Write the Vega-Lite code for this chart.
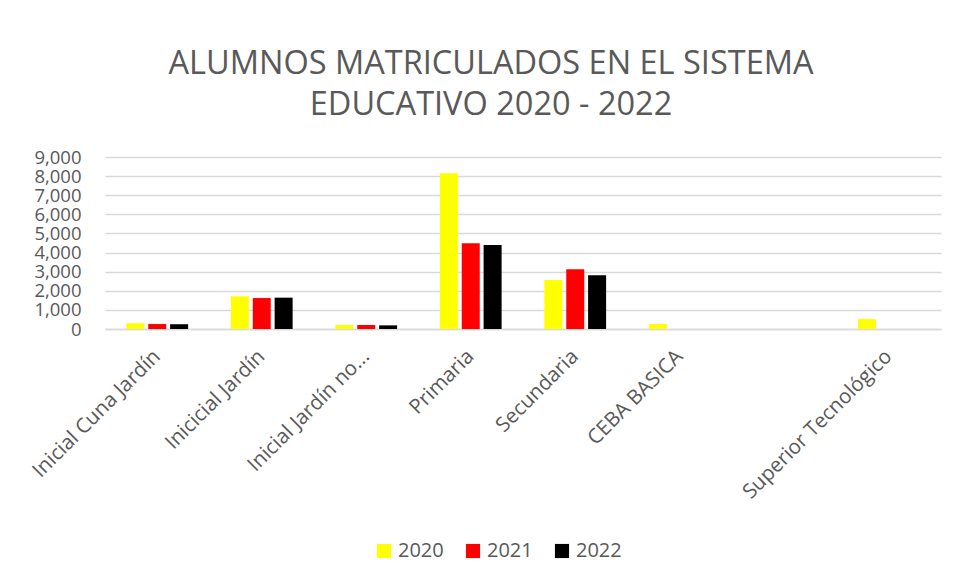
{
  "$schema": "https://vega.github.io/schema/vega-lite/v6.json",
  "width": 836,
  "height": 172,
  "autosize": {"type": "none"},
  "padding": {"left": 105, "top": 157, "right": 15, "bottom": 254},
  "background": "white",
  "title": {
    "text": ["ALUMNOS MATRICULADOS EN EL SISTEMA", "EDUCATIVO 2020 - 2022"],
    "font": "Open Sans",
    "fontSize": 32.5,
    "fontWeight": "normal",
    "color": "#595959",
    "lineHeight": 41,
    "anchor": "middle",
    "dx": -32,
    "offset": 27
  },
  "data": {
    "values": [
      {"nivel": "Inicial Cuna Jardín", "anio": "2020", "alumnos": 300},
      {"nivel": "Inicial Cuna Jardín", "anio": "2021", "alumnos": 260},
      {"nivel": "Inicial Cuna Jardín", "anio": "2022", "alumnos": 250},
      {"nivel": "Inicicial Jardín", "anio": "2020", "alumnos": 1710},
      {"nivel": "Inicicial Jardín", "anio": "2021", "alumnos": 1620},
      {"nivel": "Inicicial Jardín", "anio": "2022", "alumnos": 1640},
      {"nivel": "Inicial Jardín no...", "anio": "2020", "alumnos": 210},
      {"nivel": "Inicial Jardín no...", "anio": "2021", "alumnos": 210},
      {"nivel": "Inicial Jardín no...", "anio": "2022", "alumnos": 190},
      {"nivel": "Primaria", "anio": "2020", "alumnos": 8150},
      {"nivel": "Primaria", "anio": "2021", "alumnos": 4490},
      {"nivel": "Primaria", "anio": "2022", "alumnos": 4400},
      {"nivel": "Secundaria", "anio": "2020", "alumnos": 2565},
      {"nivel": "Secundaria", "anio": "2021", "alumnos": 3125},
      {"nivel": "Secundaria", "anio": "2022", "alumnos": 2810},
      {"nivel": "CEBA BASICA", "anio": "2020", "alumnos": 260},
      {"nivel": "Superior Tecnológico", "anio": "2020", "alumnos": 520}
    ]
  },
  "mark": {"type": "bar", "width": 18},
  "encoding": {
    "x": {
      "field": "nivel",
      "type": "nominal",
      "sort": null,
      "scale": {
        "domain": ["Inicial Cuna Jardín", "Inicicial Jardín", "Inicial Jardín no...", "Primaria", "Secundaria", "CEBA BASICA", " ", "Superior Tecnológico"],
        "paddingInner": 0,
        "paddingOuter": 0
      },
      "axis": {
        "title": null,
        "labelAngle": -45,
        "labelAlign": "right",
        "labelBaseline": "middle",
        "labelFont": "Open Sans",
        "labelFontSize": 20.5,
        "labelColor": "#595959",
        "labelPadding": 24,
        "ticks": false,
        "domainColor": "#d9d9d9",
        "domainWidth": 1.5,
        "labelLimit": 400,
        "labelOverlap": false
      }
    },
    "xOffset": {
      "field": "anio",
      "type": "nominal",
      "scale": {"domain": ["2020", "2021", "2022"], "paddingInner": 0.22, "paddingOuter": 1.03}
    },
    "y": {
      "field": "alumnos",
      "type": "quantitative",
      "scale": {"domain": [0, 9000]},
      "axis": {
        "title": null,
        "values": [0, 1000, 2000, 3000, 4000, 5000, 6000, 7000, 8000, 9000],
        "format": ",.0f",
        "labelFont": "Open Sans",
        "labelFontSize": 18.5,
        "labelColor": "#595959",
        "labelPadding": 24,
        "labelOverlap": false,
        "labelFlush": false,
        "ticks": false,
        "domain": false,
        "gridColor": "#d9d9d9",
        "gridWidth": 1.5
      }
    },
    "color": {
      "field": "anio",
      "type": "nominal",
      "scale": {"domain": ["2020", "2021", "2022"], "range": ["#ffff00", "#ff0000", "#000000"]},
      "legend": {
        "title": null,
        "orient": "none",
        "direction": "horizontal",
        "legendX": 269,
        "legendY": 384,
        "symbolType": "square",
        "symbolSize": 200,
        "symbolStrokeWidth": 0,
        "labelFont": "Open Sans",
        "labelFontSize": 20,
        "labelColor": "#595959",
        "labelOffset": 4,
        "columnPadding": 19
      }
    }
  },
  "config": {
    "view": {"stroke": null}
  }
}
